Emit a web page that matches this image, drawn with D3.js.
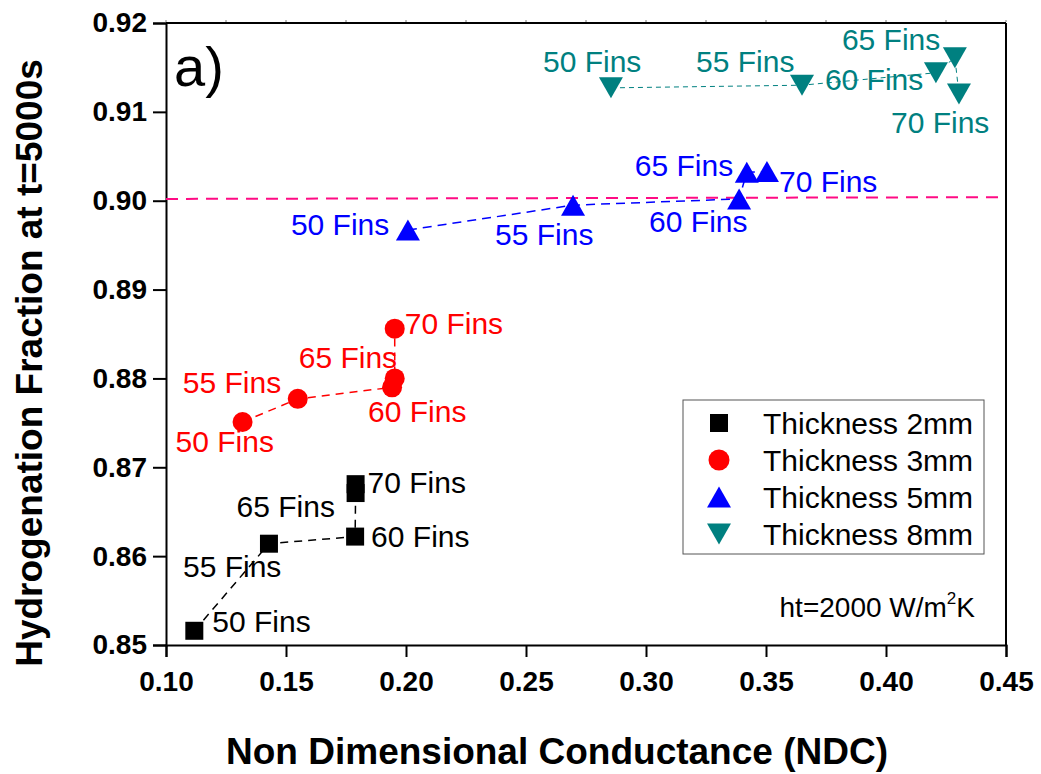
<!DOCTYPE html>
<html lang="en">
<head>
<meta charset="UTF-8">
<title>Hydrogenation Fraction vs NDC</title>
<script src="https://d3js.org/d3.v7.min.js"></script>
<style>
  body { margin: 0; background: #fff; }
  text { font-family: "Liberation Sans", Arial, sans-serif; }
</style>
</head>
<body>
<div id="chart"></div>
<script>
  // values
  const fins = ["50 Fins", "55 Fins", "60 Fins", "65 Fins", "70 Fins"];

  const ndc2 = [0.1118, 0.1429, 0.1788, 0.1790, 0.1790];
  const hf2  = [0.8516, 0.8614, 0.8622, 0.8671, 0.8681];
  const ndc3 = [0.1319, 0.1549, 0.1942, 0.1953, 0.1953];
  const hf3  = [0.8751, 0.8777, 0.8790, 0.8800, 0.8856];
  const ndc5 = [0.2008, 0.2696, 0.3388, 0.3420, 0.3504];
  const hf5  = [0.8967, 0.8995, 0.9002, 0.9032, 0.9033];
  const ndc8 = [0.2854, 0.3650, 0.4208, 0.4287, 0.4304];
  const hf8  = [0.9127, 0.9130, 0.9144, 0.9161, 0.9120];

  const refLineX = [0.10, 0.45];
  const refLineY = [0.9002, 0.9004];

  const xTicks = [0.10, 0.15, 0.20, 0.25, 0.30, 0.35, 0.40, 0.45];
  const yTicks = [0.85, 0.86, 0.87, 0.88, 0.89, 0.90, 0.91, 0.92];

  const seriesNames = ["Thickness 2mm", "Thickness 3mm", "Thickness 5mm", "Thickness 8mm"];

  // label offsets from each point (px): [dx, dy to baseline]
  const off2 = [[18, 1], [-86, 33], [16, 10], [-119, 24], [12, 9]];
  const off3 = [[-67, 30], [-115, -6], [-24, 35], [-96, -10], [10, 5]];
  const off5 = [[-117, 5], [-78, 40], [-90, 33], [-112, 4], [12, 21]];
  const off8 = [[-68, -16], [-106, -13], [-111, 17], [-113, -8], [-68, 39]];

  const width = 1041, height = 774;
  const margin = { left: 166, right: 35, top: 23, bottom: 129 };

  const svg = d3.select("#chart").append("svg")
    .attr("width", width)
    .attr("height", height);

  const x = d3.scaleLinear().domain([0.10, 0.45]).range([margin.left, width - margin.right]);
  const y = d3.scaleLinear().domain([0.85, 0.92]).range([height - margin.bottom, margin.top]);

  // minor ticks
  const xMinor = d3.range(0, 15).map(i => 0.10 + i * 0.025).filter(v => v <= 0.4501);
  const yMinor = d3.range(0, 15).map(i => 0.85 + i * 0.005).filter(v => v <= 0.9201);

  // frame (top + right)
  svg.append("line")
    .attr("x1", x(0.10)).attr("x2", x(0.45))
    .attr("y1", y(0.92)).attr("y2", y(0.92))
    .attr("stroke", "#000").attr("stroke-width", 2);
  svg.append("line")
    .attr("x1", x(0.45)).attr("x2", x(0.45))
    .attr("y1", y(0.92)).attr("y2", y(0.85))
    .attr("stroke", "#000").attr("stroke-width", 2);

  svg.append("g").selectAll("line")
    .data(xMinor)
    .enter().append("line")
    .attr("x1", d => x(d)).attr("x2", d => x(d))
    .attr("y1", y(0.92) - 1).attr("y2", y(0.92) - 3)
    .attr("stroke", "#777").attr("stroke-width", 1);

  // bottom axis
  const xAxis = svg.append("g")
    .attr("transform", `translate(0,${y(0.85)})`);
  xAxis.call(d3.axisBottom(x).tickValues(xMinor).tickSize(6).tickFormat(""));
  xAxis.call(d3.axisBottom(x).tickValues(xTicks).tickSize(12).tickFormat(d3.format(".2f")));
  xAxis.selectAll(".domain").attr("stroke-width", 2);
  xAxis.selectAll("line").attr("stroke-width", 2);
  xAxis.selectAll("text")
    .attr("font-size", 28).attr("font-weight", "bold").attr("fill", "#000")
    .attr("dy", "1.1em");

  // left axis
  const yAxis = svg.append("g")
    .attr("transform", `translate(${x(0.10)},0)`);
  yAxis.call(d3.axisLeft(y).tickValues(yMinor).tickSize(6).tickFormat(""));
  yAxis.call(d3.axisLeft(y).tickValues(yTicks).tickSize(13).tickPadding(6).tickFormat(d3.format(".2f")));
  yAxis.selectAll(".domain").attr("stroke-width", 2);
  yAxis.selectAll("line").attr("stroke-width", 2);
  yAxis.selectAll("text")
    .attr("font-size", 28).attr("font-weight", "bold").attr("fill", "#000");

  // axis titles
  svg.append("text")
    .attr("x", 557).attr("y", 764)
    .attr("text-anchor", "middle")
    .attr("font-size", 37).attr("font-weight", "bold")
    .text("Non Dimensional Conductance (NDC)");

  svg.append("text")
    .attr("transform", "translate(42,363) rotate(-90)")
    .attr("text-anchor", "middle")
    .attr("font-size", 37).attr("font-weight", "bold")
    .text("Hydrogenation Fraction at t=5000s");

  svg.append("text")
    .attr("x", 174).attr("y", 86)
    .attr("font-size", 56)
    .text("a)");

  // reference line at 0.90
  svg.append("line")
    .attr("x1", x(refLineX[0])).attr("x2", x(refLineX[1]))
    .attr("y1", y(refLineY[0])).attr("y2", y(refLineY[1]))
    .attr("stroke", "#ff0a84").attr("stroke-width", 2)
    .attr("stroke-dasharray", "12,8");

  // marker shapes
  const sq = "M-9,-9H9V9H-9Z";
  const circ = d3.symbol().type(d3.symbolCircle).size(Math.PI * 10 * 10)();
  const upTri = "M0,-10.5L12,10.5L-12,10.5Z";
  const downTri = "M0,10.5L12,-10.5L-12,-10.5Z";

  const series = [
    { name: seriesNames[0], xs: ndc2, ys: hf2, off: off2, color: "#000000", shape: sq, dash: "8,6", lw: 1.5 },
    { name: seriesNames[1], xs: ndc3, ys: hf3, off: off3, color: "#ff0000", shape: circ, dash: "8,6", lw: 1.5 },
    { name: seriesNames[2], xs: ndc5, ys: hf5, off: off5, color: "#0000ff", shape: upTri, dash: "9,6", lw: 1.5 },
    { name: seriesNames[3], xs: ndc8, ys: hf8, off: off8, color: "#008080", shape: downTri, dash: "5,4", lw: 1 }
  ];

  const line = d3.line().x(d => x(d[0])).y(d => y(d[1]));

  series.forEach(s => {
    const pts = s.xs.map((v, i) => [v, s.ys[i]]);

    svg.append("path")
      .datum(pts)
      .attr("d", line)
      .attr("fill", "none")
      .attr("stroke", s.color)
      .attr("stroke-width", s.lw)
      .attr("stroke-dasharray", s.dash);

    svg.append("g").selectAll("path")
      .data(pts)
      .enter().append("path")
      .attr("d", s.shape)
      .attr("transform", d => `translate(${x(d[0])},${y(d[1])})`)
      .attr("fill", s.color);

    svg.append("g").selectAll("text")
      .data(pts)
      .enter().append("text")
      .attr("x", (d, i) => x(d[0]) + s.off[i][0])
      .attr("y", (d, i) => y(d[1]) + s.off[i][1])
      .attr("font-size", 30)
      .attr("fill", s.color)
      .text((d, i) => fins[i]);
  });

  // legend
  const lg = svg.append("g").attr("transform", "translate(683,400)");
  lg.append("rect")
    .attr("width", 301).attr("height", 154)
    .attr("fill", "#fff").attr("stroke", "#555").attr("stroke-width", 1);
  const legendShapes = [sq, circ, upTri, downTri];
  series.forEach((s, i) => {
    const row = lg.append("g").attr("transform", `translate(36,${23 + i * 37})`);
    row.append("path").attr("d", legendShapes[i]).attr("fill", s.color)
      .attr("transform", i === 1 ? "scale(1.05)" : null);
    row.append("text")
      .attr("x", 44).attr("y", 11)
      .attr("font-size", 30)
      .text(s.name);
  });

  // annotation
  const ann = svg.append("text")
    .attr("x", 975).attr("y", 617)
    .attr("text-anchor", "end")
    .attr("font-size", 28);
  ann.append("tspan").text("ht=2000 W/m");
  ann.append("tspan").attr("font-size", 17).attr("dy", -13).text("2");
  ann.append("tspan").attr("dy", 13).text("K");
</script>
</body>
</html>
